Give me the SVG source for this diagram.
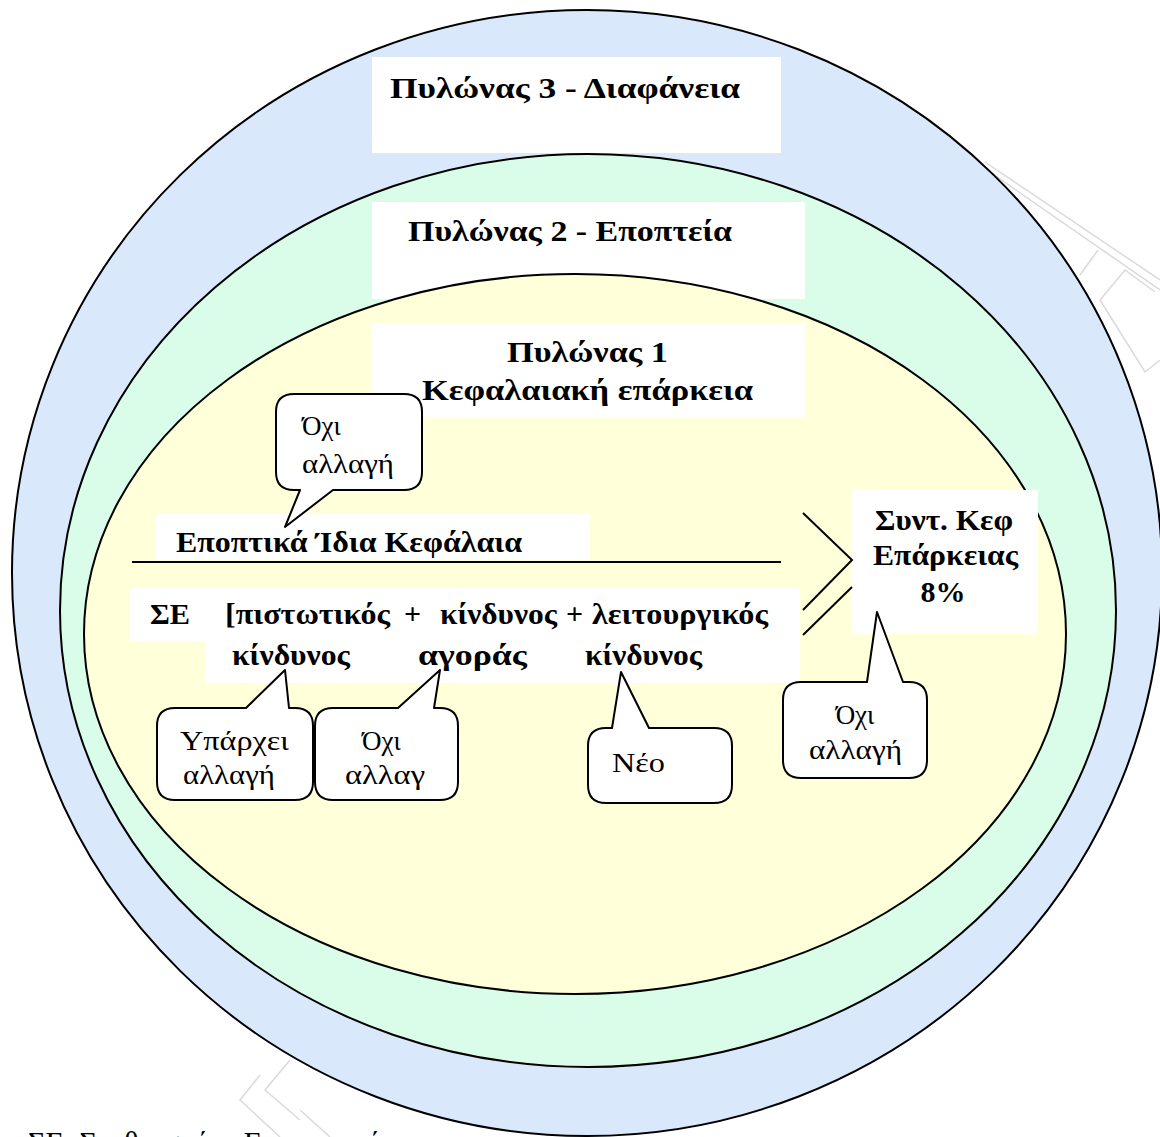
<svg xmlns="http://www.w3.org/2000/svg" width="1160" height="1137" viewBox="0 0 1160 1137">
<style>
.ring{stroke:#000;stroke-width:2}
.box{fill:#fff}
.b{font-family:"Liberation Serif","DejaVu Serif",serif;font-weight:bold;font-size:30px;fill:#000}
.n{font-family:"Liberation Serif","DejaVu Serif",serif;font-size:27px;fill:#000}
.call{fill:#fff;stroke:#000;stroke-width:2;stroke-linejoin:round}
.ln{stroke:#000;stroke-width:2;fill:none}
.wm{stroke:#dadada;stroke-width:1.5;fill:none}
</style>
<rect width="1160" height="1137" fill="#fff"/>
<g id="watermark">
<path class="wm" d="M985,162 L1160,280 M990,172 L1160,290"/>
<path class="wm" d="M1098,250 L1080,275 M1100,300 L1125,270 L1155,292 M1100,300 L1145,372 L1160,360"/>
<path class="wm" d="M260,1075 L240,1100 L280,1137 M290,1060 L265,1090 L300,1120 M300,1110 L330,1137"/>
</g>
<g id="pillar3">
<ellipse class="ring" cx="587" cy="573" rx="575" ry="563" fill="#dae8fc"/>
<rect class="box" x="372" y="57" width="409" height="96"/>
<text class="b" x="390" y="98" textLength="350" lengthAdjust="spacingAndGlyphs">Πυλώνας 3 - Διαφάνεια</text>
</g>
<g id="pillar2">
<ellipse class="ring" cx="588" cy="610.5" rx="528" ry="456.5" fill="#d9fde9"/>
<rect class="box" x="372" y="202" width="433" height="97"/>
<text class="b" x="408" y="241" textLength="324" lengthAdjust="spacingAndGlyphs">Πυλώνας 2 - Εποπτεία</text>
</g>
<g id="pillar1">
<ellipse class="ring" cx="575" cy="634" rx="491" ry="360" fill="#ffffd9"/>
<rect class="box" x="372" y="323" width="433" height="95"/>
<text class="b" x="507" y="362" textLength="161" lengthAdjust="spacingAndGlyphs">Πυλώνας 1</text>
<text class="b" x="422" y="400" textLength="331" lengthAdjust="spacingAndGlyphs">Κεφαλαιακή επάρκεια</text>
</g>
<g id="own-funds">
<rect class="box" x="156" y="514" width="434" height="46"/>
<text class="b" x="176" y="552" textLength="346" lengthAdjust="spacingAndGlyphs">Εποπτικά Ίδια Κεφάλαια</text>
</g>
<g id="risk-weighted">
<rect class="box" x="130" y="587" width="670" height="54"/>
<rect class="box" x="205" y="640" width="595" height="43"/>
<text class="b" x="150" y="624" textLength="40" lengthAdjust="spacingAndGlyphs">ΣΕ</text>
<text class="b" x="225" y="624" textLength="165" lengthAdjust="spacingAndGlyphs">[πιστωτικός</text>
<text class="b" x="404" y="624">+</text>
<text class="b" x="440" y="624" textLength="117" lengthAdjust="spacingAndGlyphs">κίνδυνος</text>
<text class="b" x="566" y="624">+</text>
<text class="b" x="592" y="624" textLength="176" lengthAdjust="spacingAndGlyphs">λειτουργικός</text>
<text class="b" x="232" y="665" textLength="118" lengthAdjust="spacingAndGlyphs">κίνδυνος</text>
<text class="b" x="418" y="665" textLength="109" lengthAdjust="spacingAndGlyphs">αγοράς</text>
<text class="b" x="585" y="665" textLength="117" lengthAdjust="spacingAndGlyphs">κίνδυνος</text>
</g>
<g id="ratio">
<rect class="box" x="852" y="490" width="186" height="144"/>
<text class="b" x="875" y="530" textLength="138" lengthAdjust="spacingAndGlyphs">Συντ. Κεφ</text>
<text class="b" x="873" y="565" textLength="145" lengthAdjust="spacingAndGlyphs">Επάρκειας</text>
<text class="b" x="943" y="602" text-anchor="middle">8%</text>
</g>
<g id="connectors">
<path class="ln" d="M132,562 H781"/>
<path class="ln" d="M803,513 L852,560 L803,610"/>
<path class="ln" d="M852,587 L803,635"/>
</g>
<g id="callout-own-funds">
<path class="call" d="M294,394 H404 Q422,394 422,412 V472 Q422,490 404,490 H333 L285,527 L300,490 H294 Q276,490 276,472 V412 Q276,394 294,394 Z"/>
<text class="n" x="302" y="435">Όχι</text>
<text class="n" x="302" y="473" textLength="92" lengthAdjust="spacingAndGlyphs">αλλαγή</text>
</g>
<g id="callout-credit">
<path class="call" d="M175,708 H246 L285,670 L289,708 H295 Q313,708 313,726 V782 Q313,800 295,800 H175 Q157,800 157,782 V726 Q157,708 175,708 Z"/>
<text class="n" x="180" y="750" textLength="109" lengthAdjust="spacingAndGlyphs">Υπάρχει</text>
<text class="n" x="183" y="784" textLength="92" lengthAdjust="spacingAndGlyphs">αλλαγή</text>
</g>
<g id="callout-market">
<path class="call" d="M333,708 H398 L440,670 L434,708 H440 Q458,708 458,726 V782 Q458,800 440,800 H333 Q315,800 315,782 V726 Q315,708 333,708 Z"/>
<text class="n" x="362" y="750">Όχι</text>
<text class="n" x="345" y="784" textLength="80" lengthAdjust="spacingAndGlyphs">αλλαγ</text>
</g>
<g id="callout-operational">
<path class="call" d="M606,728 H612 L621,672 L649,728 H714 Q732,728 732,746 V785 Q732,803 714,803 H606 Q588,803 588,785 V746 Q588,728 606,728 Z"/>
<text class="n" x="612" y="772" textLength="53" lengthAdjust="spacingAndGlyphs">Νέο</text>
</g>
<g id="callout-ratio">
<path class="call" d="M801,682 H867 L877,612 L903,682 H909 Q927,682 927,700 V760 Q927,778 909,778 H801 Q783,778 783,760 V700 Q783,682 801,682 Z"/>
<text class="n" x="855" y="724" text-anchor="middle">Όχι</text>
<text class="n" x="809" y="759" textLength="93" lengthAdjust="spacingAndGlyphs">αλλαγή</text>
</g>
<g id="footnote">
<text class="n" x="28" y="1152" style="font-size:30px">ΣΕ: Σταθμισμένο Ενεργητικό</text>
</g>
</svg>
